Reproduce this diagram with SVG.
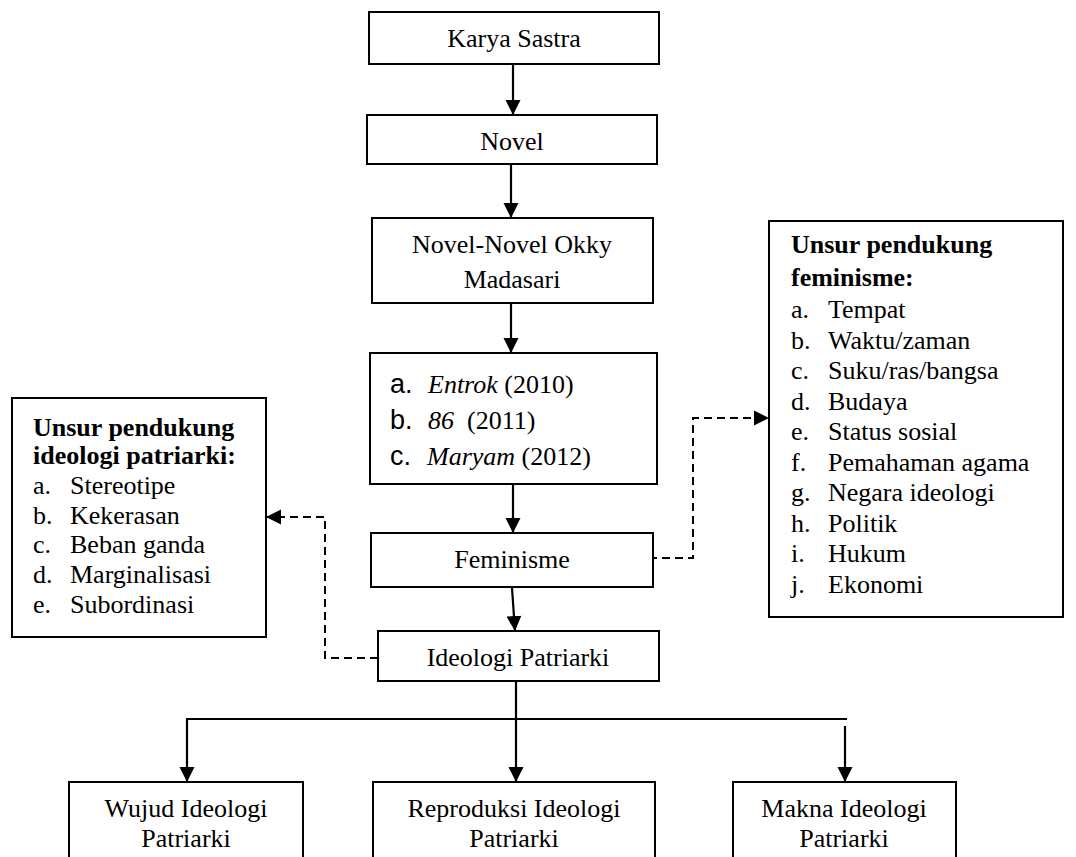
<svg xmlns="http://www.w3.org/2000/svg" width="1076" height="857" viewBox="0 0 1076 857">
<style>
.box{fill:#fff;stroke:#000;stroke-width:2}
.t{font-family:"Liberation Serif","Times New Roman",serif;font-size:26px;fill:#000}
.c{text-anchor:middle}
.b{font-weight:bold}
.i{font-style:italic}
.lab{font-family:"Liberation Sans",Arial,sans-serif;font-size:27px;fill:#000}
.ln{stroke:#000;stroke-width:2.2;fill:none}
.dash{stroke:#000;stroke-width:2;fill:none;stroke-dasharray:8 5}
</style>
<defs>
<marker id="ah" markerUnits="userSpaceOnUse" markerWidth="16" markerHeight="16" viewBox="0 0 16 16" refX="15" refY="8" orient="auto">
<path d="M0,0.5 L15,8 L0,15.5 Z" fill="#000"/>
</marker>
</defs>
<g id="connectors">
<line class="ln" x1="513" y1="64" x2="513" y2="115" marker-end="url(#ah)"/>
<line class="ln" x1="511" y1="164" x2="511" y2="218" marker-end="url(#ah)"/>
<line class="ln" x1="511" y1="303" x2="511" y2="353" marker-end="url(#ah)"/>
<line class="ln" x1="513" y1="484" x2="513" y2="533" marker-end="url(#ah)"/>
<line class="ln" x1="512" y1="588" x2="515" y2="631" marker-end="url(#ah)"/>
<line class="ln" x1="516" y1="681" x2="516" y2="782" marker-end="url(#ah)"/>
<line class="ln" x1="186" y1="719" x2="847" y2="719"/>
<line class="ln" x1="187" y1="718" x2="187" y2="782" marker-end="url(#ah)"/>
<line class="ln" x1="845" y1="726" x2="845" y2="782" marker-end="url(#ah)"/>
<polyline class="dash" points="649,558 693,558 693,418 769,418" marker-end="url(#ah)"/>
<polyline class="dash" points="378,658 325,658 325,517 266,517" marker-end="url(#ah)"/>
</g>
<g id="n-karya">
<rect class="box" x="369" y="12" width="290" height="52"/>
<text class="t c" x="514" y="47">Karya Sastra</text>
</g>
<g id="n-novel">
<rect class="box" x="367" y="115" width="290" height="49"/>
<text class="t c" x="512" y="150">Novel</text>
</g>
<g id="n-okky">
<rect class="box" x="372" y="218" width="281" height="85"/>
<text class="t c" x="512" y="253">Novel-Novel Okky</text>
<text class="t c" x="512" y="288">Madasari</text>
</g>
<g id="n-list">
<rect class="box" x="370" y="353" width="287" height="131"/>
<text class="lab" x="390" y="393">a.</text>
<text class="t" x="428" y="393"><tspan class="i">Entrok</tspan> (2010)</text>
<text class="lab" x="390" y="429">b.</text>
<text class="t" x="428" y="429"><tspan class="i">86</tspan>&#160; (2011)</text>
<text class="lab" x="390" y="465">c.</text>
<text class="t" x="427" y="465"><tspan class="i">Maryam</tspan> (2012)</text>
</g>
<g id="n-feminisme">
<rect class="box" x="371" y="533" width="282" height="54"/>
<text class="t c" x="512" y="568">Feminisme</text>
</g>
<g id="n-ideologi">
<rect class="box" x="378" y="631" width="281" height="50"/>
<text class="t c" x="518" y="666">Ideologi Patriarki</text>
</g>
<g id="n-left">
<rect class="box" x="12" y="398" width="254" height="239"/>
<text class="t b" x="33" y="436">Unsur pendukung</text>
<text class="t b" x="33" y="464">ideologi patriarki:</text>
<text class="t" x="33" y="494">a.</text><text class="t" x="70" y="494">Stereotipe</text>
<text class="t" x="33" y="523.5">b.</text><text class="t" x="70" y="523.5">Kekerasan</text>
<text class="t" x="33" y="553">c.</text><text class="t" x="70" y="553">Beban ganda</text>
<text class="t" x="33" y="583">d.</text><text class="t" x="70" y="583">Marginalisasi</text>
<text class="t" x="33" y="613">e.</text><text class="t" x="70" y="613">Subordinasi</text>
</g>
<g id="n-right">
<rect class="box" x="769" y="221" width="294" height="396"/>
<text class="t b" x="791" y="253">Unsur pendukung</text>
<text class="t b" x="791" y="286">feminisme:</text>
<text class="t" x="791" y="318">a.</text><text class="t" x="828" y="318">Tempat</text>
<text class="t" x="791" y="348.5">b.</text><text class="t" x="828" y="348.5">Waktu/zaman</text>
<text class="t" x="791" y="379">c.</text><text class="t" x="828" y="379">Suku/ras/bangsa</text>
<text class="t" x="791" y="409.5">d.</text><text class="t" x="828" y="409.5">Budaya</text>
<text class="t" x="791" y="440">e.</text><text class="t" x="828" y="440">Status sosial</text>
<text class="t" x="791" y="470.5">f.</text><text class="t" x="828" y="470.5">Pemahaman agama</text>
<text class="t" x="791" y="501">g.</text><text class="t" x="828" y="501">Negara ideologi</text>
<text class="t" x="791" y="531.5">h.</text><text class="t" x="828" y="531.5">Politik</text>
<text class="t" x="791" y="562">i.</text><text class="t" x="828" y="562">Hukum</text>
<text class="t" x="791" y="592.5">j.</text><text class="t" x="828" y="592.5">Ekonomi</text>
</g>
<g id="n-wujud">
<rect class="box" x="69" y="782" width="234" height="90"/>
<text class="t c" x="186" y="817">Wujud Ideologi</text>
<text class="t c" x="186" y="847">Patriarki</text>
</g>
<g id="n-reproduksi">
<rect class="box" x="373" y="782" width="282" height="90"/>
<text class="t c" x="514" y="817">Reproduksi Ideologi</text>
<text class="t c" x="514" y="847">Patriarki</text>
</g>
<g id="n-makna">
<rect class="box" x="733" y="782" width="223" height="90"/>
<text class="t c" x="844" y="817">Makna Ideologi</text>
<text class="t c" x="844" y="847">Patriarki</text>
</g>
</svg>
